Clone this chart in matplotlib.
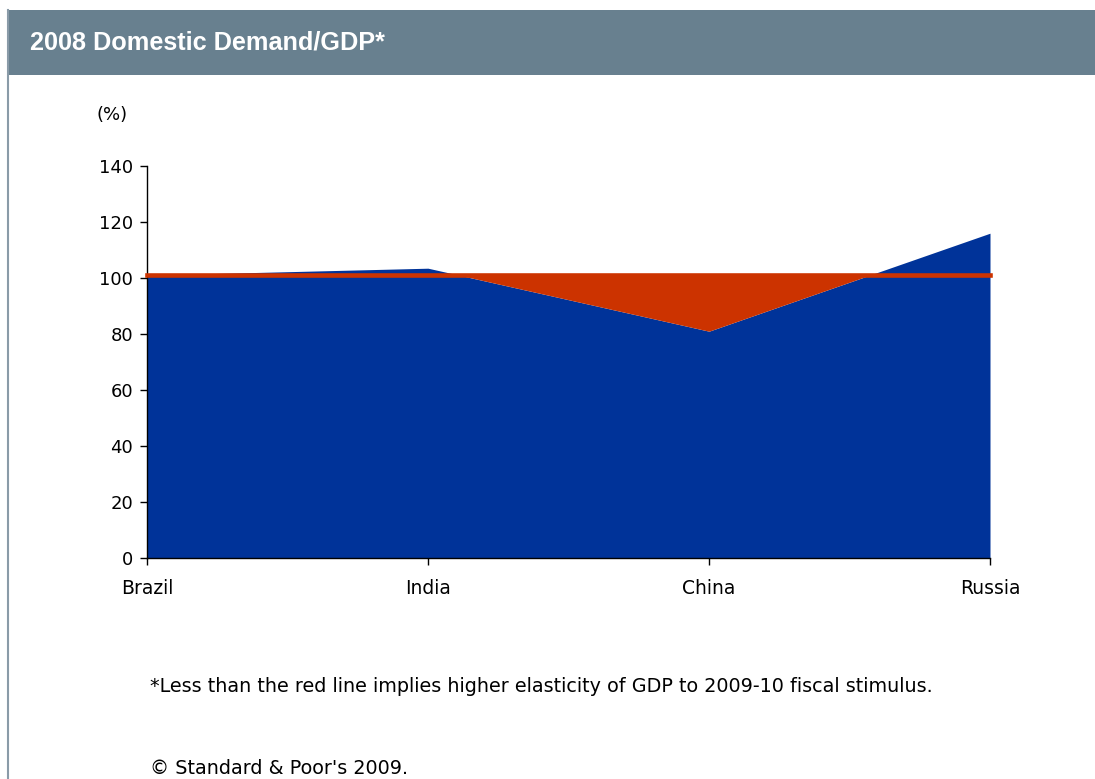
import numpy as np
import matplotlib
matplotlib.use('Agg')
import matplotlib.pyplot as plt
from matplotlib.patches import Rectangle
from matplotlib.lines import Line2D

# Data
countries = ['Brazil', 'India', 'China', 'Russia']
demand_gdp = [101, 103.5, 81, 116]   # domestic demand / GDP (%)
red_line = [101, 101, 101, 101]      # reference level
yticks = [0, 20, 40, 60, 80, 100, 120, 140]

BLUE = '#003399'
RED = '#CC3300'
HEADER = '#68808F'

plt.rcParams['font.family'] = ['DejaVu Sans']

fig = plt.figure(figsize=(10.95, 7.79), dpi=100)
W, H = 1095, 779

# Header bar and left border
fig.patches.append(Rectangle((8 / W, 1 - 75 / H), 1 - 8 / W, 65 / H,
                             transform=fig.transFigure, facecolor=HEADER,
                             edgecolor='none', zorder=0))
fig.lines.append(Line2D([8 / W, 8 / W], [0, 1 - 10 / H], transform=fig.transFigure,
                        color='#8A9BA8', linewidth=1.5))
fig.text(30 / W, 1 - 42 / H, '2008 Domestic Demand/GDP*', color='white',
         fontsize=18.2, fontweight='bold', va='center', ha='left',
         family=['Liberation Sans', 'DejaVu Sans'])

ax = fig.add_axes([147 / W, 1 - 558 / H, (990 - 147) / W, (558 - 166) / H])
x = np.arange(len(countries))
y = np.array(demand_gdp)
ref = np.array(red_line)

ax.fill_between(x, 0, y, color=BLUE, linewidth=0, zorder=2)
# red area where demand below the line
xf = np.linspace(0, len(countries) - 1, 601)
yf = np.interp(xf, x, y)
rf = np.interp(xf, x, ref)
ax.fill_between(xf, yf, rf, where=yf < rf, color=RED, linewidth=0, zorder=3)
ax.plot(x, ref, color=RED, linewidth=3.3, solid_capstyle='projecting',
        zorder=4, clip_on=False)

ax.set_xlim(0, len(countries) - 1)
ax.set_ylim(0, 140)
ax.set_yticks(yticks)
ax.set_xticks(x)
ax.set_xticklabels(countries)
for s in ['top', 'right']:
    ax.spines[s].set_visible(False)
for s in ['left', 'bottom']:
    ax.spines[s].set_color('black')
    ax.spines[s].set_linewidth(1)
ax.tick_params(axis='both', direction='out', length=5, width=1,
               labelsize=13, colors='black')
ax.tick_params(axis='x', pad=10, labelsize=13.5)
ax.tick_params(axis='y', pad=5)

fig.text(112 / W, 1 - 115 / H, '(%)', fontsize=13, ha='center', va='center')
fig.text(150 / W, 1 - 686 / H,
         '*Less than the red line implies higher elasticity of GDP to 2009-10 fiscal stimulus.',
         fontsize=13.8, ha='left', va='center')
fig.text(150 / W, 1 - 769 / H, "\u00a9 Standard & Poor's 2009.",
         fontsize=13.8, ha='left', va='center')

fig.savefig('out.png', dpi=100)
